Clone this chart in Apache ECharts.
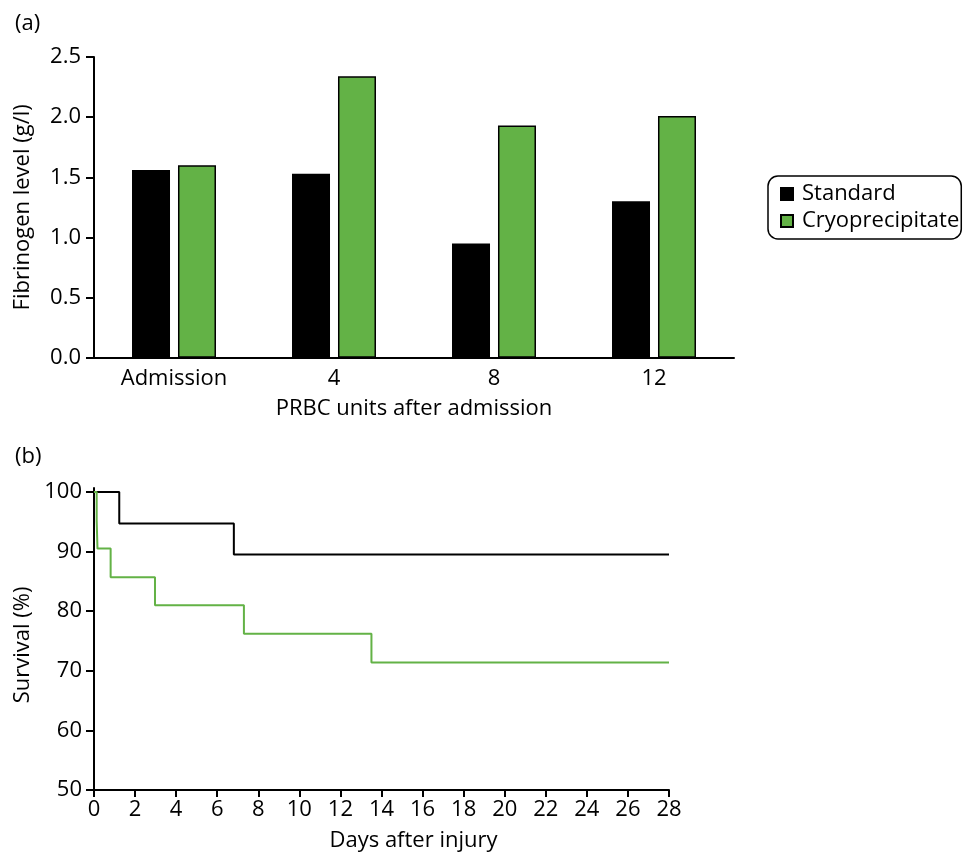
<!DOCTYPE html>
<html>
<head>
<meta charset="utf-8">
<script src="https://cdn.jsdelivr.net/npm/echarts@6/dist/echarts.min.js"></script>
<style>
html,body{margin:0;padding:0;background:#fff;}
#c{width:965px;height:856px;}
</style>
</head>
<body>
<div id="c"></div>
<script>
// Panel (a): fibrinogen levels
const barCategories = ['Admission', '4', '8', '12'];
const standardFib = [1.56, 1.53, 0.95, 1.30];
const cryoFib = [1.60, 2.34, 1.93, 2.01];
const fibTicks = [0, 0.5, 1.0, 1.5, 2.0, 2.5];

// Panel (b): Kaplan-Meier survival, [day, survival %]
const standardSurv = [[0, 100], [1.23, 94.7], [6.81, 89.5], [28, 89.5]];
const cryoSurv = [[0, 100], [0.13, 95.2], [0.17, 90.5], [0.81, 85.7], [2.97, 81.0], [7.3, 76.2], [13.51, 71.4], [28, 71.4]];
const survTicks = [50, 60, 70, 80, 90, 100];

const FONT = '"Open Sans", sans-serif';
const GREEN = '#63b246';
const txt = {color: '#000', fontFamily: FONT, fontSize: 22};

const chart = echarts.init(document.getElementById('c'), null, {renderer: 'canvas'});
chart.setOption({
  backgroundColor: '#fff',
  animation: false,
  textStyle: {fontFamily: FONT, color: '#000'},
  title: [
    {text: '(a)', left: 10, top: 8, textStyle: Object.assign({fontWeight: 'normal'}, txt)},
    {text: '(b)', left: 10, top: 441, textStyle: Object.assign({fontWeight: 'normal'}, txt)}
  ],
  legend: {
    data: [
      {name: 'Standard', icon: 'rect'},
      {name: 'Cryoprecipitate', icon: 'rect'}
    ],
    orient: 'vertical',
    left: 768, top: 176,
    padding: [7, 2, 7, 12],
    itemWidth: 12, itemHeight: 12, itemGap: 5,
    borderColor: '#000', borderWidth: 1.5, borderRadius: 10,
    textStyle: Object.assign({padding: [0, 0, 0, 4], lineHeight: 22}, txt)
  },
  grid: [
    {left: 94, top: 57, width: 640, height: 300.7},
    {left: 94, top: 488, width: 575, height: 302}
  ],
  xAxis: [
    {
      gridIndex: 0, type: 'category', data: barCategories,
      name: 'PRBC units after admission', nameLocation: 'middle', nameGap: 40,
      nameTextStyle: txt,
      axisLine: {lineStyle: {color: '#000', width: 2}},
      axisTick: {show: false},
      axisLabel: Object.assign({margin: 10}, txt)
    },
    {
      gridIndex: 1, type: 'value', min: 0, max: 28, interval: 2,
      name: 'Days after injury', nameLocation: 'middle', nameGap: 40,
      nameTextStyle: Object.assign({padding: [0, 0, 0, 64]}, txt),
      axisLine: {onZero: false, lineStyle: {color: '#000', width: 2}},
      axisTick: {show: true, length: 7, lineStyle: {color: '#000', width: 2}},
      axisLabel: Object.assign({margin: 9}, txt),
      splitLine: {show: false}
    }
  ],
  yAxis: [
    {
      gridIndex: 0, type: 'value', min: 0, max: 2.5, interval: 0.5,
      name: 'Fibrinogen level (g/l)', nameLocation: 'middle', nameGap: 60,
      nameTextStyle: txt,
      axisLine: {show: true, lineStyle: {color: '#000', width: 2}},
      axisTick: {show: true, length: 8, lineStyle: {color: '#000', width: 2}},
      axisLabel: Object.assign({margin: 13, formatter: v => v.toFixed(1)}, txt),
      splitLine: {show: false}
    },
    {
      gridIndex: 1, type: 'value', min: 50, max: 100.67,
      name: 'Survival (%)', nameLocation: 'middle', nameGap: 60,
      nameTextStyle: Object.assign({padding: [0, 12, 0, 0]}, txt),
      axisLine: {show: true, onZero: false, lineStyle: {color: '#000', width: 2}},
      axisTick: {show: true, length: 8, customValues: survTicks, lineStyle: {color: '#000', width: 2}},
      axisLabel: Object.assign({margin: 12, customValues: survTicks}, txt),
      splitLine: {show: false}
    }
  ],
  series: [
    {
      name: 'Standard', type: 'bar', xAxisIndex: 0, yAxisIndex: 0,
      data: standardFib, barWidth: 38, barGap: '21%',
      itemStyle: {color: '#000', borderColor: '#000', borderWidth: 1.5}
    },
    {
      name: 'Cryoprecipitate', type: 'bar', xAxisIndex: 0, yAxisIndex: 0,
      data: cryoFib, barWidth: 38, barGap: '21%',
      itemStyle: {color: GREEN, borderColor: '#000', borderWidth: 1.5}
    },
    {
      name: 'StandardKM', type: 'line', xAxisIndex: 1, yAxisIndex: 1,
      data: standardSurv, step: 'end', symbol: 'none',
      lineStyle: {color: '#000', width: 2}
    },
    {
      name: 'CryoKM', type: 'line', xAxisIndex: 1, yAxisIndex: 1,
      data: cryoSurv, step: 'end', symbol: 'none',
      lineStyle: {color: GREEN, width: 2}
    }
  ]
});
</script>
</body>
</html>
